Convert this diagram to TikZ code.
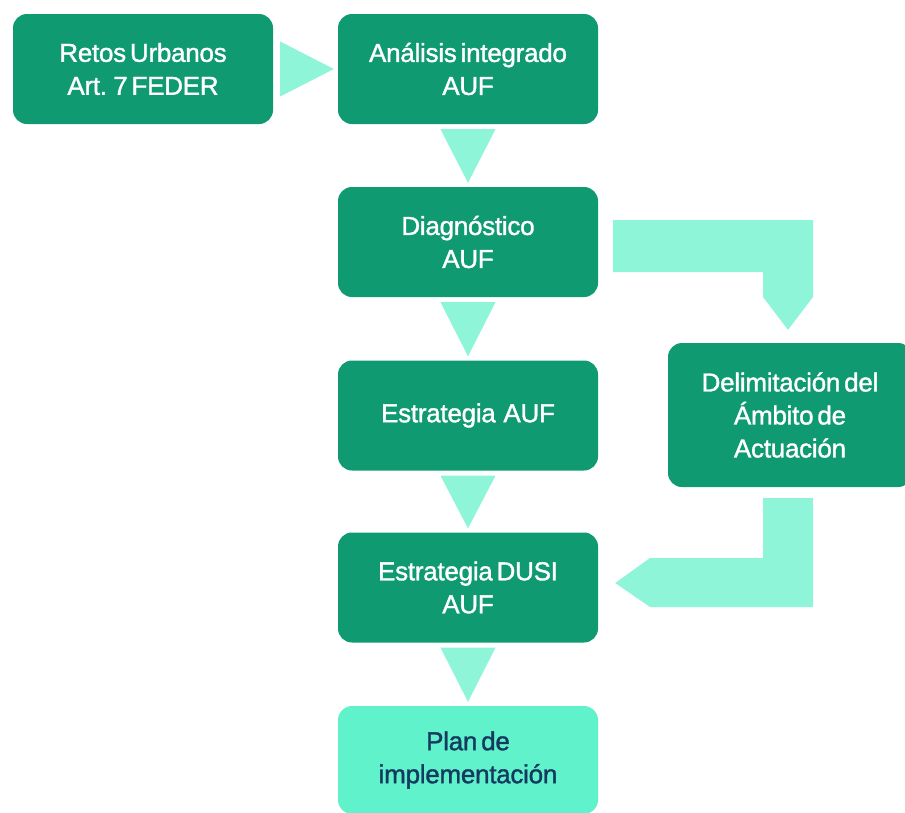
\documentclass[tikz,border=0pt]{standalone}
\usepackage{fontspec}
\setmainfont{Liberation Sans}
\newfontfamily\boxfont{Liberation Sans}[FakeBold=1.3, WordSpace=0.55, LetterSpace=-1]
\usetikzlibrary{calc}
\definecolor{boxgreen}{HTML}{109A71}
\definecolor{mint}{HTML}{8FF5D9}
\definecolor{planfill}{HTML}{5FF2CB}
\definecolor{plantext}{HTML}{163A5F}
\begin{document}
\begin{tikzpicture}[x=1pt,y=-1pt,
  box/.style={fill=boxgreen, rounded corners=14pt, minimum width=260pt, minimum height=110pt,
    text=white, align=center, inner sep=0pt, font=\boxfont\fontsize{26}{33}\selectfont},
  connector/.style={fill=mint, draw=none}]
\useasboundingbox (0,0) rectangle (905,812);
\fill[white] (0,0) rectangle (905,812);
\clip (0,0) rectangle (905,812);

\node[box] (retos) at (143,69) {Retos Urbanos\\Art. 7 FEDER};
\node[box] (anal) at (468,69) {Análisis integrado\\AUF};
\node[box] (diag) at (468,242) {Diagnóstico\\AUF};
\node[box] (estA) at (468,415.5) {Estrategia\ \ AUF};
\node[box] (dusi) at (468,587.5) {Estrategia DUSI\\AUF};
\node[box, fill=planfill, text=plantext, minimum height=108pt] (plan) at (468,760) {Plan de\\implementación};
\node[box, minimum width=244pt, minimum height=144pt] (delim) at (790,415) {Delimitación del\\Ámbito de\\Actuación};

% right triangle
\fill[connector] ($(retos.east)+(7,-27.5)$) -- ($(retos.east)+(7,27.5)$) -- ($(anal.west)+(-4,0)$) -- cycle;
% down triangles
\foreach \a/\b in {anal/diag, diag/estA, estA/dusi, dusi/plan}{
  \fill[connector] ($(\a.south)+(-27.5,5)$) -- ($(\a.south)+(27.5,5)$) -- ($(\b.north)+(0,-4)$) -- cycle;
}
% bent arrow diag -> delim
\fill[connector] ($(diag.east)+(15,-22)$) -- (813,220) -- (813,297) -- ($(delim.north)+(-2,-13)$)
  -- (763,297) -- (763,272) -- ($(diag.east)+(15,30)$) -- cycle;
% bent arrow delim -> dusi
\fill[connector] ($(delim.south)+(-27,11)$) -- ($(delim.south)+(23,11)$) -- (813,607) -- (650,607)
  -- ($(dusi.east)+(17,-4.5)$) -- (650,558) -- (763,558) -- cycle;
\end{tikzpicture}
\end{document}
